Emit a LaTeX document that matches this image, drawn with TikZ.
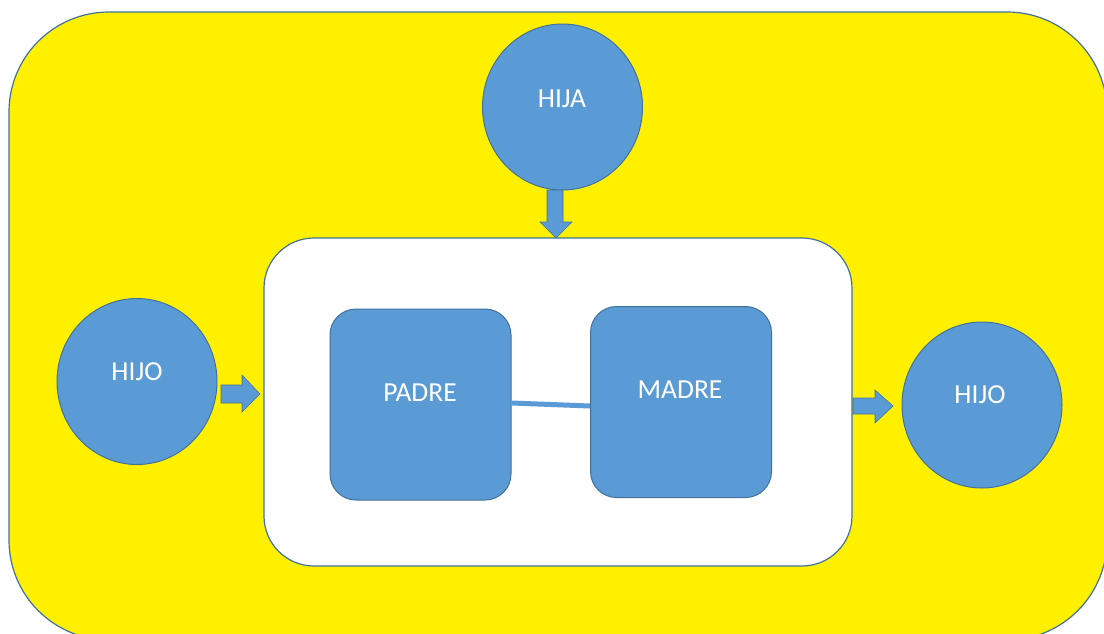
\documentclass[tikz,border=0pt]{standalone}
\usepackage{fontspec}
\setmainfont{Carlito}
\usetikzlibrary{shapes.geometric}
\definecolor{ylw}{HTML}{FFF000}
\definecolor{blu}{HTML}{5B9BD5}
\definecolor{bord}{HTML}{41719C}
\tikzset{
  person/.style={ellipse, fill=blu, draw=bord, line width=1pt, minimum width=160pt, minimum height=166pt, inner sep=0pt},
  parent/.style={rectangle, rounded corners=26pt, fill=blu, draw=bord, line width=1pt, minimum width=181pt, minimum height=191pt},
  blockarrow/.style={fill=blu, draw=bord, line width=0.6pt},
  label/.style={text=white, font=\fontsize{27.5}{30}\selectfont, inner sep=0pt}
}
\begin{document}
\begin{tikzpicture}[x=1pt,y=-1pt]
\useasboundingbox (0,0) rectangle (1104,633);
\begin{scope}
\clip (0,0) rectangle (1104,633);
\draw[fill=ylw, draw=bord, line width=1.2pt, rounded corners=100pt] (9,12) rectangle (1107,640);
\end{scope}
\draw[fill=white, draw=bord, line width=1.2pt, rounded corners=50pt] (264,238) rectangle (852,566);
\node[parent] (padre) at (420.5,404.5) {};
\node[parent] (madre) at (681,402) {};
\node[label] at (420,393) {PADRE};
\node[label] at (680,390) {MADRE};
\draw[blu, line width=5pt] ([yshift=1.5pt]padre.east) -- ([yshift=-4pt]madre.west);
\node[person] (hija) at (562.5,107) {};
\node[person] (hijol) at (137,381.5) {};
\node[person] (hijor) at (982,405) {};
\node[label] at (562,99) {HIJA};
\node[label] at (137,372) {HIJO};
\node[label] at (980,395) {HIJO};
% block arrows
\draw[blockarrow] (547,190) -- (563,190) -- (563,222) -- (572,222) -- (556,238) -- (540,222) -- (547,222) -- cycle;
\draw[blockarrow] (221,385) -- (242,385) -- (242,375) -- (260,394) -- (242,412) -- (242,403) -- (221,403) -- cycle;
\draw[blockarrow] (853,398) -- (875,398) -- (875,390) -- (893,406) -- (875,423) -- (875,414) -- (853,414) -- cycle;
\end{tikzpicture}
\end{document}
